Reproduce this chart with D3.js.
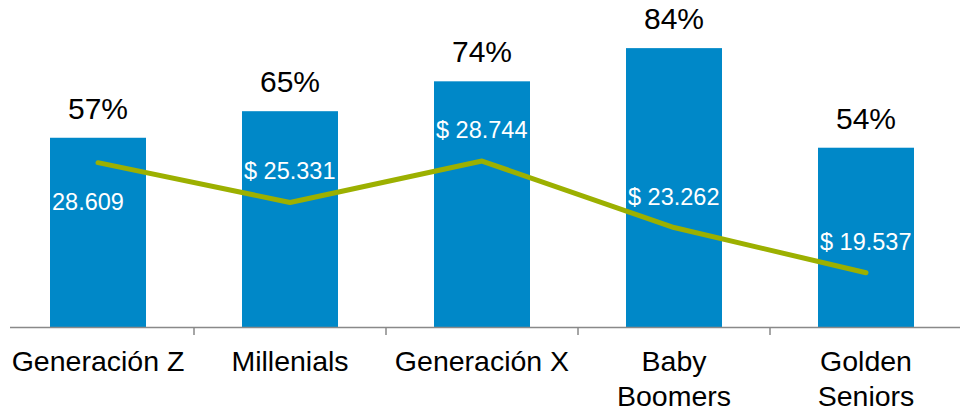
<!DOCTYPE html>
<meta charset="utf-8">
<script src="https://d3js.org/d3.v7.min.js"></script>
<style>
  body { margin: 0; background: #fff; }
  text { font-family: Arial, "Liberation Sans", sans-serif; }
</style>
<div id="chart"></div>
<script>
// data
var categories = [["Generación Z"], ["Millenials"], ["Generación X"], ["Baby", "Boomers"], ["Golden", "Seniors"]];
var shares = [57, 65, 74, 84, 54];
var spend = [28609, 25331, 28744, 23262, 19537];
var spendLabels = ["28.609", "$ 25.331", "$ 28.744", "$ 23.262", "$ 19.537"];

var width = 970, height = 411, baseY = 327;

var svg = d3.select("#chart").append("svg")
    .attr("width", width)
    .attr("height", height);

var x = d3.scaleBand()
    .domain(d3.range(categories.length))
    .range([2, 962])
    .paddingInner(0.5)
    .paddingOuter(0.25);

// bar scale (percent)
var y = d3.scaleLinear().domain([0, 100]).range([baseY, -5]);
// line scale (spend)
var y2 = d3.scaleLinear().domain([0, 40000]).range([509.7, 24.5]);

// bars
svg.append("g").selectAll("rect")
  .data(shares)
  .enter().append("rect")
    .attr("x", function(d, i) { return x(i); })
    .attr("y", function(d) { return y(d); })
    .attr("width", x.bandwidth())
    .attr("height", function(d) { return baseY - y(d); })
    .attr("fill", "#0088c8");

// percent labels
svg.append("g").selectAll("text")
  .data(shares)
  .enter().append("text")
    .attr("x", function(d, i) { return x(i) + x.bandwidth() / 2; })
    .attr("y", function(d) { return y(d) - 19; })
    .attr("text-anchor", "middle")
    .style("font-size", "30px")
    .attr("fill", "#000")
    .text(function(d) { return d + "%"; });

// axis line + ticks between categories
var step = x.step();
svg.append("line")
    .attr("x1", 10).attr("x2", 960)
    .attr("y1", baseY + 0.5).attr("y2", baseY + 0.5)
    .attr("stroke", "#898989")
    .attr("stroke-width", 1.5);

svg.append("g").selectAll("line")
  .data(d3.range(1, categories.length))
  .enter().append("line")
    .attr("x1", function(d) { return 2 + d * step; })
    .attr("x2", function(d) { return 2 + d * step; })
    .attr("y1", baseY)
    .attr("y2", baseY + 8)
    .attr("stroke", "#898989")
    .attr("stroke-width", 1.5);

// category labels
var cat = svg.append("g").selectAll("text")
  .data(categories)
  .enter().append("text")
    .attr("text-anchor", "middle")
    .style("font-size", "28.5px")
    .attr("fill", "#000")
    .attr("transform", function(d, i) { return "translate(" + (x(i) + x.bandwidth() / 2) + ",371)"; });

cat.selectAll("tspan")
  .data(function(d) { return d; })
  .enter().append("tspan")
    .attr("x", 0)
    .attr("y", function(d, j) { return j * 35; })
    .text(function(d) { return d; });

// spend line
var line = d3.line()
    .x(function(d, i) { return x(i) + x.bandwidth() / 2; })
    .y(function(d) { return y2(d); });

svg.append("path")
    .datum(spend)
    .attr("d", line)
    .attr("fill", "none")
    .attr("stroke", "#9cb000")
    .attr("stroke-width", 5)
    .attr("stroke-linecap", "round")
    .attr("stroke-linejoin", "round");

// spend labels
svg.append("g").selectAll("text")
  .data(spend)
  .enter().append("text")
    .attr("x", function(d, i) { return x(i) + 2; })
    .attr("y", function(d, i) { return i === 0 ? y2(d) + 47 : y2(d) - 23; })
    .style("font-size", "23.5px")
    .attr("fill", "#fff")
    .text(function(d, i) { return spendLabels[i]; });
</script>
